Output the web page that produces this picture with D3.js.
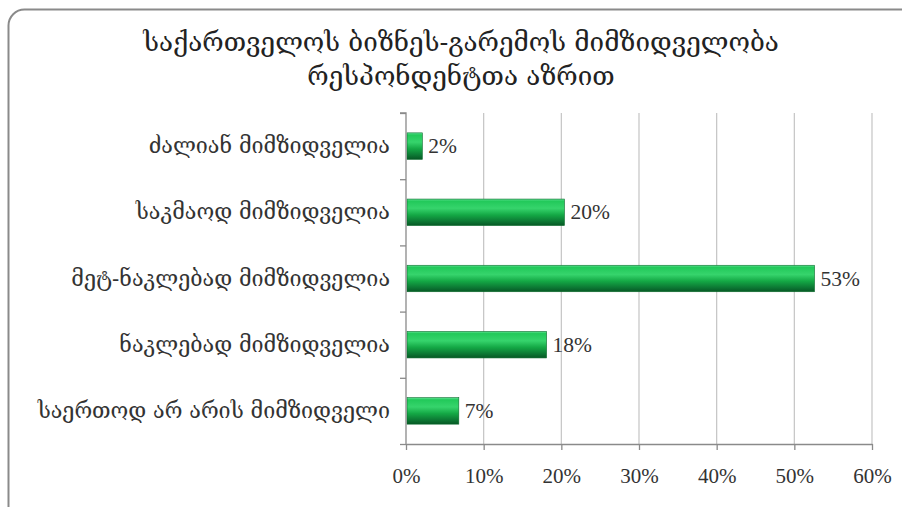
<!DOCTYPE html>
<html><head><meta charset="utf-8">
<script src="https://cdn.jsdelivr.net/npm/d3@7"></script>
<style>html,body{margin:0;padding:0;background:#fff;}</style>
</head><body>
<svg id="c" width="902" height="507"></svg>
<script>
const titleLines = ["საქართველოს ბიზნეს-გარემოს მიმზიდველობა", "რესპონდენტთა აზრით"];
const categories = ["ძალიან მიმზიდველია", "საკმაოდ მიმზიდველია", "მეტ-ნაკლებად მიმზიდველია", "ნაკლებად მიმზიდველია", "საერთოდ არ არის მიმზიდველი"];
const values = [0.021, 0.204, 0.526, 0.181, 0.068];
const valueLabels = ["2%", "20%", "53%", "18%", "7%"];
const xTicks = [0, 0.1, 0.2, 0.3, 0.4, 0.5, 0.6];

(function () {
const svg = d3.select("#c");
const geoFont = "'DejaVu Serif', serif";
const numFont = "'Liberation Serif', 'Times New Roman', serif";

svg.append("rect").attr("x", 8.5).attr("y", 9.5).attr("width", 930).attr("height", 520)
  .attr("rx", 16).attr("fill", "#fff").attr("stroke", "#8a8a8a").attr("stroke-width", 2);

svg.append("g").selectAll("text").data(titleLines).join("text")
  .attr("x", 461).attr("y", (d, i) => 51 + i * 34)
  .attr("text-anchor", "middle").attr("font-family", geoFont).attr("font-size", 26)
  .attr("fill", "#222").text(d => d);

const pL = 406, pR = 872, pT = 113, pB = 444;
const x = d3.scaleLinear().domain([0, 0.6]).range([pL, pR]);
const y = d3.scaleBand().domain(categories).range([pT, pB]).paddingInner(0.6).paddingOuter(0.3);

svg.append("g").selectAll("line").data(xTicks.filter(t => t > 0)).join("line")
  .attr("x1", d => x(d)).attr("x2", d => x(d)).attr("y1", pT).attr("y2", pB)
  .attr("stroke", "#c4c4c4").attr("stroke-width", 1.2);

const defs = svg.append("defs");
const g = defs.append("linearGradient").attr("id", "bg").attr("x1", 0).attr("y1", 0).attr("x2", 0).attr("y2", 1);
[[0, "#5fe394"], [0.08, "#22c95a"], [0.35, "#36d46c"], [0.6, "#14a845"], [0.85, "#0c7633"], [1, "#065824"]]
  .forEach(([o, c]) => g.append("stop").attr("offset", o).attr("stop-color", c));

svg.append("g").selectAll("rect").data(categories).join("rect")
  .attr("x", x(0) + 1).attr("y", d => y(d))
  .attr("width", (d, i) => x(values[i]) - x(0) - 1).attr("height", y.bandwidth())
  .attr("fill", "url(#bg)").attr("stroke", "#0b6b2c").attr("stroke-width", 0.6);

svg.append("g").selectAll("text").data(categories).join("text")
  .attr("x", (d, i) => x(values[i]) + 6).attr("y", d => y(d) + y.bandwidth() / 2 + 7)
  .attr("font-family", numFont).attr("font-size", 21.5).attr("fill", "#333")
  .text((d, i) => valueLabels[i]);

const yAxis = d3.axisLeft(d3.scaleLinear().domain([0, 5]).range([pB, pT])).ticks(5).tickSize(6).tickFormat("");
const ya = svg.append("g").attr("transform", `translate(${pL},0)`).call(yAxis);
ya.selectAll("path,line").attr("stroke", "#8a8a8a").attr("stroke-width", 1.3);
ya.select(".domain").attr("d", `M-6,${pT}H0V${pB}`);

svg.append("g").selectAll("text").data(categories).join("text")
  .attr("x", 390).attr("y", d => y(d) + y.bandwidth() / 2 + 7)
  .attr("text-anchor", "end").attr("font-family", geoFont).attr("font-size", 21.5)
  .attr("fill", "#333").text(d => d);

const xAxis = d3.axisBottom(x).tickValues(xTicks).tickSize(6).tickSizeOuter(0).tickFormat(d3.format(".0%"));
const xa = svg.append("g").attr("transform", `translate(0,${pB})`).call(xAxis);
xa.selectAll("path,line").attr("stroke", "#8a8a8a").attr("stroke-width", 1.3);
xa.selectAll("text").attr("font-family", numFont).attr("font-size", 21).attr("fill", "#333").attr("y", 17).attr("dy", "1.05em");
})();
</script>
</body></html>
